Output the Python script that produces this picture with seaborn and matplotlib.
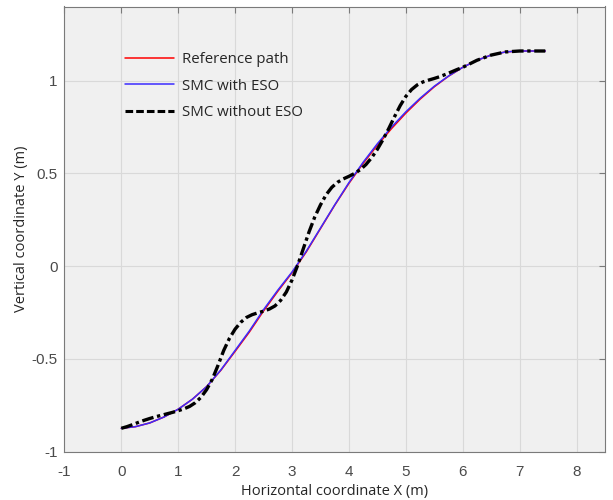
import numpy as np
import pandas as pd
import matplotlib
matplotlib.use("Agg")
import matplotlib.pyplot as plt
import seaborn as sns
from matplotlib.lines import Line2D

# values
ref_x = [0.0, 0.25, 0.5, 0.75, 1.0, 1.25, 1.5, 1.75, 2.0, 2.25, 2.5, 2.75, 3.0, 3.25,
         3.5, 3.75, 4.0, 4.25, 4.5, 4.75, 5.0, 5.25, 5.5, 5.75, 6.0, 6.25, 6.5, 6.75,
         7.0, 7.25, 7.45]
ref_y = [-0.875, -0.866, -0.846, -0.814, -0.772, -0.718, -0.650, -0.562, -0.460, -0.356,
         -0.242, -0.136, -0.036, 0.076, 0.202, 0.328, 0.446, 0.554, 0.652, 0.742,
         0.825, 0.900, 0.967, 1.024, 1.072, 1.110, 1.138, 1.155, 1.160, 1.160, 1.160]

eso_x = ref_x
eso_y = [-0.875, -0.866, -0.846, -0.814, -0.772, -0.718, -0.650, -0.560, -0.455, -0.350,
         -0.235, -0.130, -0.032, 0.080, 0.205, 0.330, 0.450, 0.560, 0.660, 0.750,
         0.832, 0.905, 0.970, 1.025, 1.072, 1.110, 1.138, 1.155, 1.160, 1.160, 1.160]

noeso_x = [0.0, 0.1, 0.2, 0.3, 0.4, 0.5, 0.6, 0.7, 0.8, 0.9, 1.0, 1.1, 1.2, 1.3, 1.4,
           1.5, 1.6, 1.7, 1.8, 1.9, 2.0, 2.1, 2.2, 2.3, 2.4, 2.5, 2.6, 2.7, 2.8, 2.9,
           3.0, 3.1, 3.2, 3.3, 3.4, 3.5, 3.6, 3.7, 3.8, 3.9, 4.0, 4.1, 4.2, 4.3, 4.4,
           4.5, 4.6, 4.7, 4.8, 4.9, 5.0, 5.1, 5.2, 5.3, 5.4, 5.5, 5.6, 5.7, 5.8, 5.9,
           6.0, 6.25, 6.5, 6.75, 7.0, 7.25, 7.45]
noeso_y = [-0.875, -0.866, -0.855, -0.843, -0.832, -0.822, -0.813, -0.805, -0.797, -0.789,
           -0.780, -0.770, -0.757, -0.737, -0.708, -0.666, -0.610, -0.535, -0.455, -0.390,
           -0.340, -0.303, -0.277, -0.262, -0.252, -0.243, -0.232, -0.215, -0.185, -0.140,
           -0.075, 0.005, 0.095, 0.185, 0.265, 0.330, 0.385, 0.425, 0.452, 0.470,
           0.484, 0.500, 0.520, 0.548, 0.585, 0.630, 0.683, 0.742, 0.805, 0.865,
           0.915, 0.952, 0.977, 0.993, 1.003, 1.012, 1.022, 1.034, 1.047, 1.060,
           1.072, 1.110, 1.138, 1.155, 1.160, 1.160, 1.160]

names = ["Reference path", "SMC with ESO", "SMC without ESO"]

df = pd.concat([
    pd.DataFrame({"x": ref_x, "y": ref_y, "series": names[0]}),
    pd.DataFrame({"x": eso_x, "y": eso_y, "series": names[1]}),
    pd.DataFrame({"x": noeso_x, "y": noeso_y, "series": names[2]}),
], ignore_index=True)

sns.set_style("whitegrid")
plt.rcParams["font.family"] = ["Liberation Sans", "DejaVu Sans"]

fig = plt.figure(figsize=(6.13, 5.0), dpi=100)
ax = fig.add_axes([0.105, 0.097, 0.882, 0.89])

palette = {names[0]: "#ff0000", names[1]: "#3b2bff", names[2]: "#000000"}
dashes = {names[0]: "", names[1]: "", names[2]: (3.5, 1.1, 1.0, 1.1)}
sizes = {names[0]: 1.1, names[1]: 1.1, names[2]: 2.4}

sns.lineplot(data=df, x="x", y="y", hue="series", style="series", size="series",
             palette=palette, dashes=dashes, sizes=sizes, sort=False,
             estimator=None, ax=ax, legend=False)

ax.set_facecolor("#f0f0f0")
ax.set_xlim(-1, 8.5)
ax.set_ylim(-1, 1.4)
xt = list(range(-1, 9))
ax.set_xticks(xt)
ax.set_xticklabels([str(v) for v in xt])
ax.set_yticks([-1, -0.5, 0, 0.5, 1])
ax.set_yticklabels(["-1", "-0.5", "0", "0.5", "1"])
ax.grid(True, color="#d9d9d9", linewidth=0.8)
for s in ax.spines.values():
    s.set_color("#7a7a7a")
    s.set_linewidth(0.8)
ax.tick_params(direction="in", length=4, width=0.8, color="#7a7a7a",
               top=True, right=True, labelsize=11, labelcolor="#4a4a4a")
ax.tick_params(axis="x", pad=10)
ax.tick_params(axis="y", pad=5)

ax.set_xlabel("Horizontal coordinate X (m)", fontsize=10.5, family="Open Sans", labelpad=3)
ax.set_ylabel("Vertical coordinate Y (m)", fontsize=10.5, family="Open Sans", labelpad=1.5)

handles = [Line2D([], [], color="#ff0000", lw=1.1),
           Line2D([], [], color="#3b2bff", lw=1.1),
           Line2D([], [], color="#000000", lw=2.2, dashes=(2.5, 1))]
ax.legend(handles, names, loc="upper left", bbox_to_anchor=(0.112, 0.897),
          frameon=False, borderpad=0, borderaxespad=0, handlelength=3.3,
          handletextpad=0.5, labelspacing=0.75,
          prop={"family": "Open Sans", "size": 10.8})

fig.savefig("out.png", dpi=100)
